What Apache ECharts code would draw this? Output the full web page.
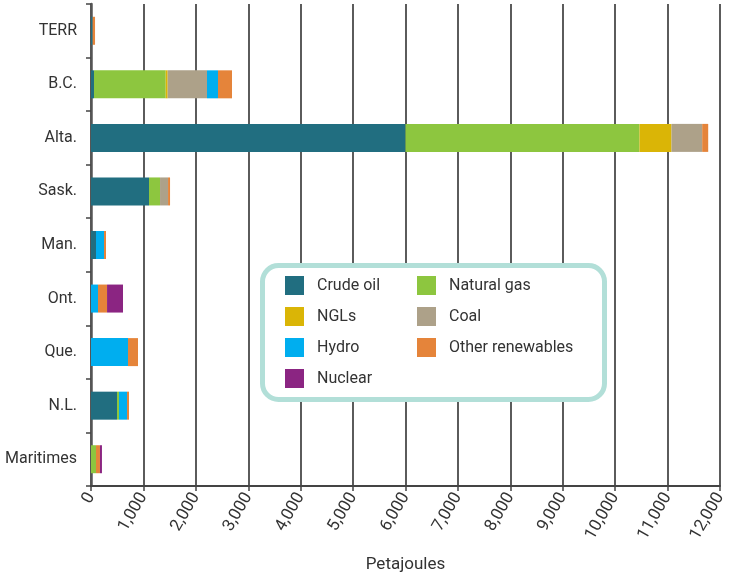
<!DOCTYPE html>
<html><head><meta charset="utf-8">
<script src="https://cdn.jsdelivr.net/npm/echarts@6/dist/echarts.min.js"></script>
<style>html,body{margin:0;padding:0;background:#fff}#c{width:729px;height:578px}</style>
</head><body><div id="c"></div>
<script>
const categories = ['TERR','B.C.','Alta.','Sask.','Man.','Ont.','Que.','N.L.','Maritimes'];
const crudeOil   = [32, 57, 6000, 1107, 95, 0, 0, 496, 0];
const naturalGas = [0, 1368, 4464, 210, 0, 0, 0, 38, 95];
const ngls       = [0, 38, 611, 0, 0, 0, 0, 0, 0];
const coal       = [0, 750, 585, 153, 0, 0, 0, 0, 0];
const hydro      = [0, 210, 0, 0, 153, 134, 706, 153, 0];
const otherRenew = [45, 267, 115, 38, 38, 172, 191, 38, 76];
const nuclear    = [0, 0, 0, 0, 0, 305, 0, 0, 38];
const xTicks = [0,1000,2000,3000,4000,5000,6000,7000,8000,9000,10000,11000,12000];

const FONT = '"Roboto", sans-serif';
const seriesDefs = [
  ['Crude oil', crudeOil, '#216e80'],
  ['Natural gas', naturalGas, '#8dc63f'],
  ['NGLs', ngls, '#dab506'],
  ['Coal', coal, '#ada189'],
  ['Hydro', hydro, '#00aeef'],
  ['Other renewables', otherRenew, '#e5843a'],
  ['Nuclear', nuclear, '#8b2582']
];
const chart = echarts.init(document.getElementById('c'));
const legendText = {fontFamily: FONT, fontSize: 16, color: '#333', padding: [0,0,0,8]};
chart.setOption({
  animation: false,
  grid: {left: 91, right: 9, top: 4, bottom: 92, containLabel: false, outerBoundsMode: 'none'},
  xAxis: {
    type: 'value', min: xTicks[0], max: xTicks[xTicks.length-1], interval: 1000,
    name: 'Petajoules', nameLocation: 'middle', nameGap: 70,
    nameTextStyle: {fontFamily: FONT, fontSize: 17, color: '#333'},
    axisLine: {show: true, lineStyle: {color: '#444', width: 2}},
    axisTick: {show: true, length: 5, lineStyle: {color: '#444', width: 1.5}},
    axisLabel: {rotate: 60, fontFamily: FONT, fontSize: 17, color: '#333', margin: 8,
      formatter: v => v.toLocaleString('en-US')},
    splitLine: {show: true, lineStyle: {color: '#333', width: 1.6}}
  },
  yAxis: {
    type: 'category', data: categories, inverse: true,
    axisLine: {show: true, lineStyle: {color: '#555', width: 2.5}},
    axisTick: {show: true, length: 5, lineStyle: {color: '#444', width: 1.5}},
    axisLabel: {fontFamily: FONT, fontSize: 16, color: '#333', margin: 14},
    splitLine: {show: false}
  },
  legend: [
    {data: ['Crude oil','NGLs','Hydro','Nuclear'], orient: 'vertical', left: 280, top: 271, z: 20,
     itemWidth: 19, itemHeight: 19, itemGap: 12, icon: 'rect', textStyle: legendText, selectedMode: false},
    {data: ['Natural gas','Coal','Other renewables'], orient: 'vertical', left: 412, top: 271, z: 20,
     itemWidth: 19, itemHeight: 19, itemGap: 12, icon: 'rect', textStyle: legendText, selectedMode: false}
  ],
  graphic: [{
    type: 'rect', left: 260, top: 263, z: 10,
    shape: {width: 342, height: 134, r: 16},
    style: {fill: '#fff', stroke: '#b2dfd8', lineWidth: 5}
  }],
  series: seriesDefs.map(([name, data, color]) => ({
    name, type: 'bar', stack: 'total', data, barWidth: 28,
    itemStyle: {color}, z: 2
  }))
});
</script></body></html>
